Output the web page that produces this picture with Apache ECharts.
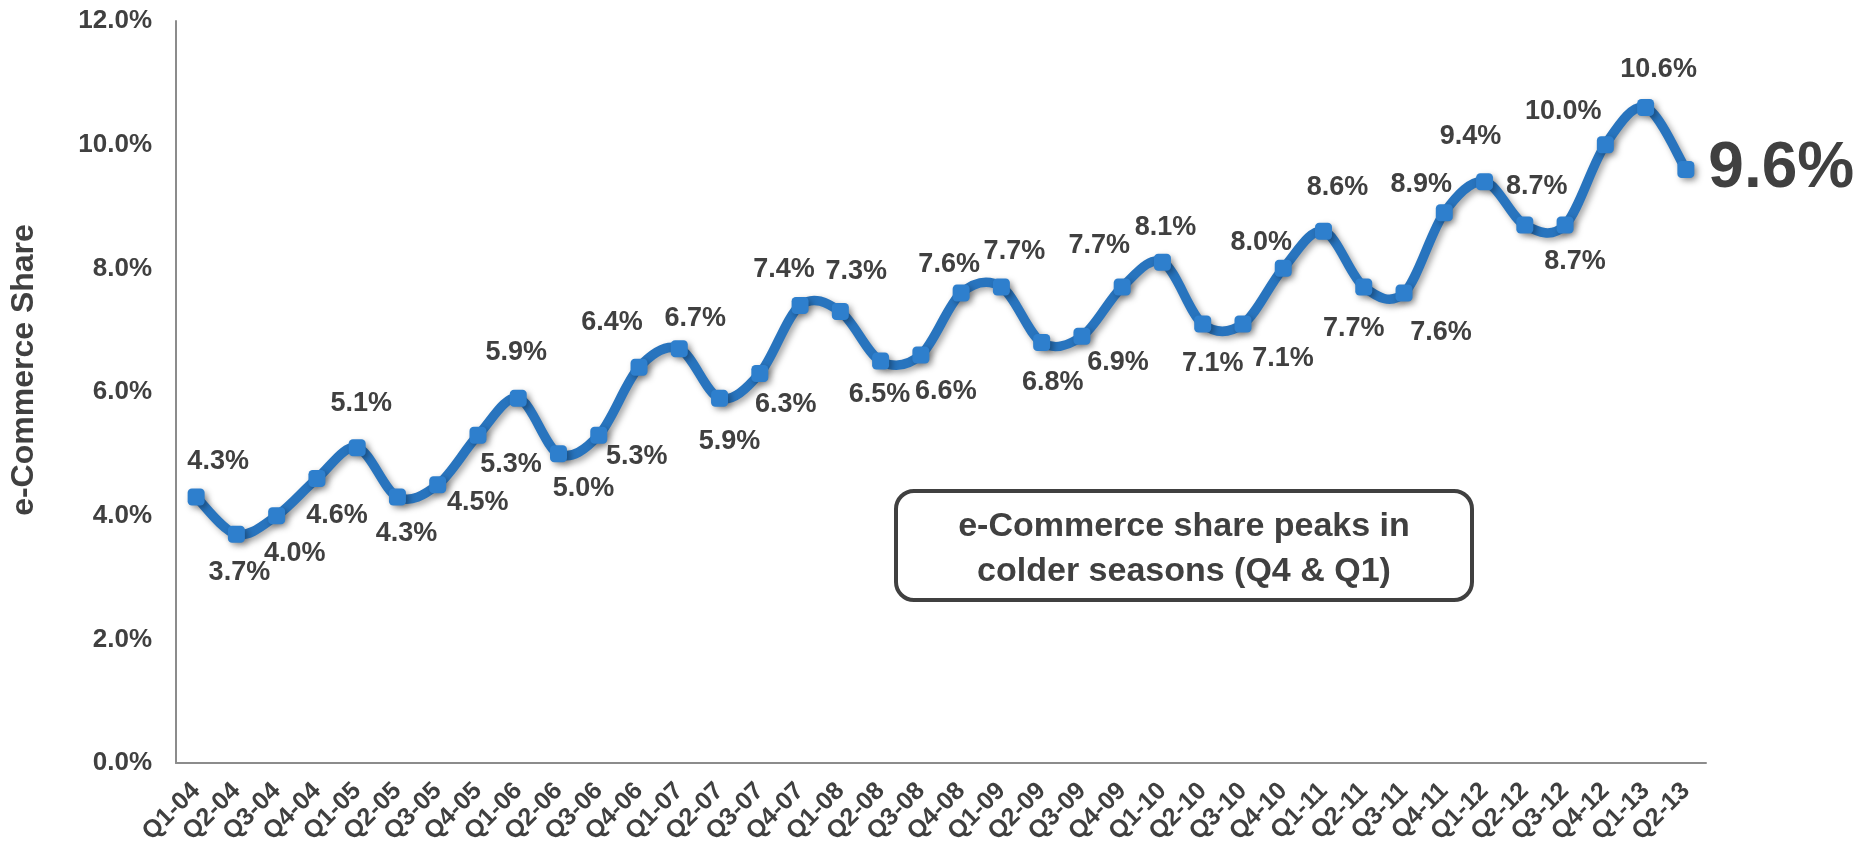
<!DOCTYPE html>
<html>
<head>
<meta charset="utf-8">
<title>e-Commerce Share</title>
<script src="https://cdn.jsdelivr.net/npm/echarts@6/dist/echarts.min.js"></script>
<style>
  html, body { margin: 0; padding: 0; background: #ffffff; }
  #chart { width: 1857px; height: 851px; }
</style>
</head>
<body>
<div id="chart"></div>
<script>
// Quarterly e-commerce share of total retail sales
const quarters = [
  'Q1-04','Q2-04','Q3-04','Q4-04','Q1-05','Q2-05','Q3-05','Q4-05',
  'Q1-06','Q2-06','Q3-06','Q4-06','Q1-07','Q2-07','Q3-07','Q4-07',
  'Q1-08','Q2-08','Q3-08','Q4-08','Q1-09','Q2-09','Q3-09','Q4-09',
  'Q1-10','Q2-10','Q3-10','Q4-10','Q1-11','Q2-11','Q3-11','Q4-11',
  'Q1-12','Q2-12','Q3-12','Q4-12','Q1-13','Q2-13'
];
const sharePct = [
  4.3, 3.7, 4.0, 4.6, 5.1, 4.3, 4.5, 5.3,
  5.9, 5.0, 5.3, 6.4, 6.7, 5.9, 6.3, 7.4,
  7.3, 6.5, 6.6, 7.6, 7.7, 6.8, 6.9, 7.7,
  8.1, 7.1, 7.1, 8.0, 8.6, 7.7, 7.6, 8.9,
  9.4, 8.7, 8.7, 10.0, 10.6, 9.6
];
const yTicks = [0, 2, 4, 6, 8, 10, 12];
const noteLines = ['e-Commerce share peaks in', 'colder seasons (Q4 & Q1)'];
const axisTitle = 'e-Commerce Share';

// Where each value label sits relative to its marker (px)
const labelOffsets = [
  [22,-36],[3,38],[18,38],[20,37],[4,-44],[9,36],[40,18],[33,29],
  [-2,-46],[25,35],[38,21],[-27,-45],[16,-30],[10,43],[26,31],[-16,-36],
  [16,-40],[-1,33],[25,37],[-12,-29],[13,-35],[11,40],[36,26],[-23,-41],
  [3,-35],[10,40],[40,35],[-22,-26],[14,-44],[-10,42],[37,39],[-23,-28],
  [-14,-45],[12,-39],[10,36],[-42,-33],[13,-38],[0,0]
];

const TEXT = '#404040';
const FONT = '"Liberation Sans", Arial, sans-serif';
const LINE_BLUE = '#2874be';
const MARK_BLUE = '#2e7fcd';
const SHADOW = { shadowColor: 'rgba(0,0,0,0.35)', shadowBlur: 6, shadowOffsetX: 3, shadowOffsetY: 3 };

const fmtPct = v => v.toFixed(1) + '%';
const last = sharePct.length - 1;

const seriesData = sharePct.map((v, i) => {
  if (i === last) {
    return {
      value: v,
      label: {
        position: 'right', distance: 14,
        fontSize: 64, fontWeight: 'bold', color: TEXT
      }
    };
  }
  return {
    value: v,
    label: { position: 'inside', offset: labelOffsets[i] }
  };
});

// Smoothed curve through all points (cardinal spline, 1/6 tangent factor)
function renderCurve(params, api) {
  if (params.dataIndex !== 0) return null;
  const pts = sharePct.map((v, i) => api.coord([i, v]));
  const n = pts.length;
  let d = 'M' + pts[0][0] + ' ' + pts[0][1];
  for (let i = 0; i < n - 1; i++) {
    const p0 = pts[Math.max(i - 1, 0)];
    const p1 = pts[i];
    const p2 = pts[i + 1];
    const p3 = pts[Math.min(i + 2, n - 1)];
    const c1x = p1[0] + (p2[0] - p0[0]) / 6;
    const c1y = p1[1] + (p2[1] - p0[1]) / 6;
    const c2x = p2[0] - (p3[0] - p1[0]) / 6;
    const c2y = p2[1] - (p3[1] - p1[1]) / 6;
    d += ' C' + c1x + ' ' + c1y + ' ' + c2x + ' ' + c2y + ' ' + p2[0] + ' ' + p2[1];
  }
  return {
    type: 'path',
    shape: { pathData: d },
    style: Object.assign({ fill: 'none', stroke: LINE_BLUE, lineWidth: 9.5, lineJoin: 'round', lineCap: 'round' }, SHADOW),
    silent: true
  };
}

const chart = echarts.init(document.getElementById('chart'), null, { renderer: 'canvas' });

chart.setOption({
  animation: false,
  backgroundColor: '#ffffff',
  textStyle: { fontFamily: FONT },
  grid: { left: 176, right: 151, top: 21, bottom: 88, containLabel: false },
  xAxis: {
    type: 'category',
    data: quarters,
    boundaryGap: true,
    axisLine: { show: true, lineStyle: { color: '#8c8c8c', width: 2 } },
    axisTick: { show: false },
    axisLabel: {
      rotate: 45, margin: 24, interval: 0,
      fontSize: 25, fontWeight: 'bold', color: TEXT, fontFamily: FONT
    },
    splitLine: { show: false }
  },
  yAxis: {
    type: 'value',
    min: yTicks[0], max: yTicks[yTicks.length - 1], interval: yTicks[1] - yTicks[0],
    axisLine: { show: true, lineStyle: { color: '#8c8c8c', width: 2 } },
    axisTick: { show: false },
    splitLine: { show: false },
    axisLabel: {
      margin: 24, fontSize: 26, fontWeight: 'bold', color: TEXT, fontFamily: FONT,
      formatter: v => fmtPct(v)
    }
  },
  series: [
    {
      type: 'custom',
      data: sharePct,
      renderItem: renderCurve,
      clip: false,
      z: 2,
      silent: true
    },
    {
      type: 'line',
      data: seriesData,
      symbol: 'roundRect',
      symbolSize: 17,
      showSymbol: true,
      lineStyle: { width: 0, opacity: 0 },
      itemStyle: Object.assign({ color: MARK_BLUE, borderWidth: 0 }, SHADOW),
      label: {
        show: true,
        fontSize: 27, fontWeight: 'bold', color: TEXT, fontFamily: FONT,
        formatter: p => fmtPct(p.value)
      },
      emphasis: { disabled: true },
      z: 3
    }
  ],
  graphic: [
    {
      type: 'text',
      x: 24, y: 370,
      rotation: Math.PI / 2,
      style: {
        text: axisTitle, fontSize: 32, fontWeight: 'bold', fill: TEXT, fontFamily: FONT,
        align: 'center', verticalAlign: 'middle'
      }
    },
    {
      type: 'group',
      x: 896, y: 491,
      children: [
        {
          type: 'rect',
          shape: { x: 0, y: 0, width: 576, height: 109, r: 18 },
          style: { fill: '#ffffff', stroke: '#404040', lineWidth: 4 }
        },
        {
          type: 'text',
          x: 288, y: 36,
          style: {
            text: noteLines[0], fontSize: 34, fontWeight: 'bold', fill: TEXT,
            fontFamily: FONT, align: 'center', verticalAlign: 'middle'
          }
        },
        {
          type: 'text',
          x: 288, y: 81,
          style: {
            text: noteLines[1], fontSize: 34, fontWeight: 'bold', fill: TEXT,
            fontFamily: FONT, align: 'center', verticalAlign: 'middle'
          }
        }
      ]
    }
  ]
});
</script>
</body>
</html>
